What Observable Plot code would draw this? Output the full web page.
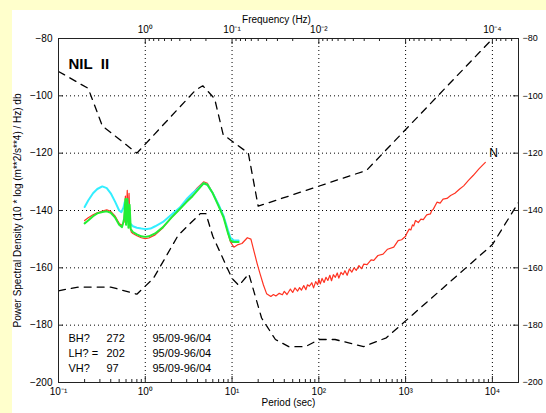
<!DOCTYPE html>
<html><head><meta charset="utf-8">
<script src="https://cdn.jsdelivr.net/npm/d3@7"></script>
<script src="https://cdn.jsdelivr.net/npm/@observablehq/plot@0.6"></script>
<style>
html,body{margin:0;padding:0;background:#ffffcc;}
#wrap{position:relative;width:546px;height:413px;overflow:hidden;}
#paper{position:absolute;left:12px;top:10px;right:0;bottom:0;background:#ffffff;}
#chart{position:absolute;left:0;top:0;}
</style></head><body>
<div id="wrap"><div id="paper"></div><div id="chart"></div></div>
<script>
// ---- data ----
const stationName = "NIL  II";
const xTitle = "Period (sec)";
const topTitle = "Frequency (Hz)";
const yTitle = "Power Spectral Density (10 * log (m**2/s**4) / Hz) db";

const periodTicks = [0.1, 1, 10, 100, 1000, 10000];
const periodTickLabels = ["10⁻¹", "10⁰", "10¹", "10²", "10³", "10⁴"];
const freqTicks = [1, 10, 100, 10000];           // positions in period
const freqTickLabels = ["10⁰", "10⁻¹", "10⁻²", "10⁻⁴"];
const minorMultipliers = [2, 3, 4, 5, 6, 7, 8, 9];
const decades = [0.1, 1, 10, 100, 1000, 10000];
const dbTicks = [-200, -180, -160, -140, -120, -100, -80];
const dbGrid = [-180, -160, -140, -120, -100];
const periodGrid = [1, 10, 100, 1000, 10000];

// Upper dashed reference curve (high noise model)
const highPeriod = [0.1, 0.22, 0.32, 0.8, 3.8, 4.6, 6.3, 7.9, 15.4, 20, 354.8, 20000];
const highDb =     [-91.5, -97.4, -110.5, -120.0, -98.0, -96.5, -101.0, -113.5, -120.0, -138.5, -126.0, -70.6];

// Lower dashed reference curve (low noise model)
const lowPeriod = [0.1, 0.17, 0.4, 0.8, 1.24, 2.4, 4.3, 5.0, 6.0, 10, 12, 15.6, 21.9, 31.6, 45, 70, 101, 154, 328, 600, 10000, 20000];
const lowDb =     [-168.0, -166.7, -166.7, -169.2, -163.7, -148.6, -141.1, -141.1, -149.0, -163.7, -166.2, -162.1, -177.5, -185.0, -187.5, -187.5, -185.0, -185.0, -187.5, -184.4, -151.9, -137.2];

// Red trace
const redPeriod = [0.2, 0.22, 0.25, 0.28, 0.32, 0.36, 0.40, 0.45, 0.50, 0.54, 0.57, 0.59, 0.60, 0.62, 0.63, 0.65, 0.67, 0.69, 0.72, 0.8, 0.9, 1.0, 1.1, 1.3, 1.6, 2.0, 2.5, 3.0, 3.5, 4.0, 4.7, 5.2, 6.0, 7.0, 8.0, 9.0, 9.6, 10.5, 11.5, 13, 15, 16.5, 18, 19.5, 21, 23, 25, 28,
  30, 32, 35, 38, 40, 43, 47, 50, 53, 57, 60, 63, 67, 71, 74, 78, 83, 87, 92, 97, 100, 104, 109, 115, 121, 127, 134, 140, 147, 155, 163, 170, 180, 190, 200, 212, 225, 240, 255, 270, 290, 310, 330, 360, 400, 430, 480, 550, 620, 730, 820, 900, 1000, 1040, 1100, 1150, 1200, 1240, 1300, 1400, 1500, 1600, 1750, 1930, 2000, 2080, 2300, 2500, 2700, 3000, 3300, 3700, 4200, 4670, 5300, 6000, 7000, 8300];
const redDb = [-143.5, -142.5, -141.5, -140.8, -140.2, -139.8, -140.3, -142, -144.5, -145.2, -144, -135, -143, -133, -142, -134, -146, -147.5, -148, -148.8, -149.5, -149.8, -149.6, -148.5, -146, -142.5, -139.5, -136.5, -134, -132, -130, -130.5, -134, -138, -142, -148, -151, -152.8, -152, -151.5, -149.5, -150, -154.5, -158.6, -162, -166, -169, -170,
  -169.3, -169.8, -168.9, -169.4, -168.2, -169.3, -167.4, -168.6, -167.0, -168.1, -166.9, -167.8, -166.2, -167.6, -165.9, -166.4, -165.2, -167.0, -164.8, -165.9, -164.0, -165.6, -163.7, -165.1, -163.3, -164.4, -162.6, -164.5, -162.4, -163.3, -161.8, -163.6, -161.6, -162.4, -161.0, -162.6, -160.4, -161.5, -160.0, -160.9, -159.2, -160.3, -158.7, -158.9, -157.2, -157.4, -155.7, -155.2, -153.5, -152.8, -150.5, -150.2, -149, -147.8, -146.5, -146.8, -145, -145.4, -143.5, -144.2, -143, -143.2, -141.5, -141.2, -140, -139.6, -137.1, -137.4, -136, -135.8, -134.8, -134.0, -132.5, -131.4, -129.5, -127.8, -125.5, -123.2, -120.5];

// Green trace
const greenPeriod = [0.2, 0.22, 0.25, 0.28, 0.32, 0.36, 0.40, 0.45, 0.50, 0.54, 0.57, 0.59, 0.60, 0.62, 0.64, 0.66, 0.68, 0.72, 0.8, 0.9, 1.0, 1.1, 1.3, 1.6, 2.0, 2.5, 3.0, 3.5, 4.0, 4.7, 5.2, 6.0, 7.0, 8.0, 9.0, 9.6, 10.5, 11.9];
const greenDb = [-144.5, -143.5, -142, -141, -140.5, -140.3, -140.8, -142.5, -145, -145.8, -143, -136, -145, -136, -146, -138, -146.5, -147.5, -148.3, -149, -149.2, -149, -148, -145.8, -142.5, -139.5, -137, -135, -133, -130.5, -131, -134, -138.5, -142.5, -148, -150.5, -151, -151];

// Cyan trace
const cyanPeriod = [0.2, 0.22, 0.25, 0.28, 0.32, 0.36, 0.40, 0.45, 0.50, 0.53, 0.56, 0.58, 0.60, 0.62, 0.64, 0.67, 0.72, 0.8, 0.9, 1.0, 1.15, 1.3, 1.6, 2.0, 2.5, 3.0, 3.5, 4.0, 4.7, 5.2, 6.0, 7.0, 8.0, 9.0, 9.6, 10.5, 11.9];
const cyanDb = [-138.8, -136.5, -134, -132.5, -131.6, -132.2, -134, -137, -140, -140.6, -139, -137, -141, -136, -143, -144.5, -145.5, -146, -146.3, -146.5, -146.3, -145.5, -144, -141.5, -139, -136, -134, -132.5, -130.5, -131, -134, -138, -142, -147, -149.5, -150.5, -150.5];

const legendNames = "BH?\nLH? =\nVH?";
const legendCounts = "272\n202\n97";
const legendDates = "95/09-96/04\n95/09-96/04\n95/09-96/04";
const endLabel = ["N"];
const endLabelPeriod = [10300];
const endLabelDb = [-120];

// ---- chart ----
const W = 546, H = 413, mL = 58, mR = 28, mT = 38, mB = 31;
const pw = W - mL - mR, ph = H - mT - mB;
const periodMinor = decades.flatMap(d => minorMultipliers.map(k => d * k)).filter(v => v < 20000);
const freqMinor = [10, 100, 1000, 10000, 100000].flatMap(d => minorMultipliers.map(k => d / k)).filter(v => v > 0.1 && v < 20000);
const dotted = {stroke: "black", strokeWidth: 1, strokeDasharray: "1,3"};
const dashed = {stroke: "black", strokeWidth: 1.3, strokeDasharray: "7,6", clip: true};

const chart = Plot.plot({
  width: W, height: H,
  marginLeft: mL, marginRight: mR, marginTop: mT, marginBottom: mB,
  x: {type: "log", domain: [0.1, 20000]},
  y: {domain: [-200, -80]},
  style: {background: "transparent", fontFamily: "'Liberation Sans', Arial, sans-serif", fontSize: "10px", color: "black", overflow: "visible"},
  marks: [
    Plot.ruleX(periodGrid, {x: d => d, ...dotted}),
    Plot.ruleY(dbGrid, {y: d => d, ...dotted}),
    Plot.line(highDb, {x: highPeriod, y: highDb, ...dashed}),
    Plot.line(lowDb, {x: lowPeriod, y: lowDb, ...dashed}),
    Plot.line(redDb, {x: redPeriod, y: redDb, stroke: "#ff3322", strokeWidth: 1.2}),
    Plot.line(cyanDb, {x: cyanPeriod, y: cyanDb, stroke: "#33eeff", strokeWidth: 2}),
    Plot.line(greenDb, {x: greenPeriod, y: greenDb, stroke: "#22ee33", strokeWidth: 2}),
    Plot.frame({stroke: "#222"}),
    // inward ticks
    Plot.tickX(periodTicks, {x: d => d, insetTop: ph - 6, stroke: "#222"}),
    Plot.tickX(periodMinor, {x: d => d, insetTop: ph - 3, stroke: "#222"}),
    Plot.tickX(periodTicks, {x: d => d, insetBottom: ph - 6, stroke: "#222"}),
    Plot.tickX(freqMinor, {x: d => d, insetBottom: ph - 3, stroke: "#222"}),
    Plot.tickY(dbTicks, {y: d => d, insetRight: pw - 5, stroke: "#222"}),
    Plot.tickY(dbTicks, {y: d => d, insetLeft: pw - 5, stroke: "#222"}),
    // axes labels
    Plot.axisX({anchor: "bottom", ticks: periodTicks, tickSize: 0, tickPadding: 5, tickFormat: d => periodTickLabels[periodTicks.indexOf(d)], label: null}),
    Plot.axisX({anchor: "top", ticks: freqTicks, tickSize: 0, tickPadding: 6, tickFormat: d => freqTickLabels[freqTicks.indexOf(d)], label: null}),
    Plot.axisY({anchor: "left", ticks: dbTicks, tickSize: 0, tickPadding: 6, tickFormat: d => "−" + Math.abs(d), label: null}),
    Plot.axisY({anchor: "right", ticks: dbTicks, tickSize: 0, tickPadding: 4, fontSize: 9, tickFormat: d => "−" + Math.abs(d), label: null}),
    Plot.text([xTitle], {frameAnchor: "bottom", dy: 23, fontSize: 10}),
    Plot.text([topTitle], {frameAnchor: "top", dy: -23, dx: -12, fontSize: 10}),
    Plot.text([yTitle], {frameAnchor: "left", dx: -41, rotate: -90, textAnchor: "middle", fontSize: 10}),
    Plot.text([stationName], {frameAnchor: "top-left", dx: 10, dy: 20, textAnchor: "start", fontWeight: "bold", fontSize: 15}),
    Plot.text([legendNames], {frameAnchor: "bottom-left", lineAnchor: "bottom", dx: 10, dy: -11, textAnchor: "start", fontSize: 11, lineHeight: 1.36}),
    Plot.text([legendCounts], {frameAnchor: "bottom-left", lineAnchor: "bottom", dx: 48, dy: -11, textAnchor: "start", fontSize: 11, lineHeight: 1.36}),
    Plot.text([legendDates], {frameAnchor: "bottom-left", lineAnchor: "bottom", dx: 94, dy: -11, textAnchor: "start", fontSize: 11, lineHeight: 1.36}),
    Plot.text(endLabel, {x: endLabelPeriod, y: endLabelDb, fontSize: 12})
  ]
});
document.getElementById("chart").appendChild(chart);
</script></body></html>
